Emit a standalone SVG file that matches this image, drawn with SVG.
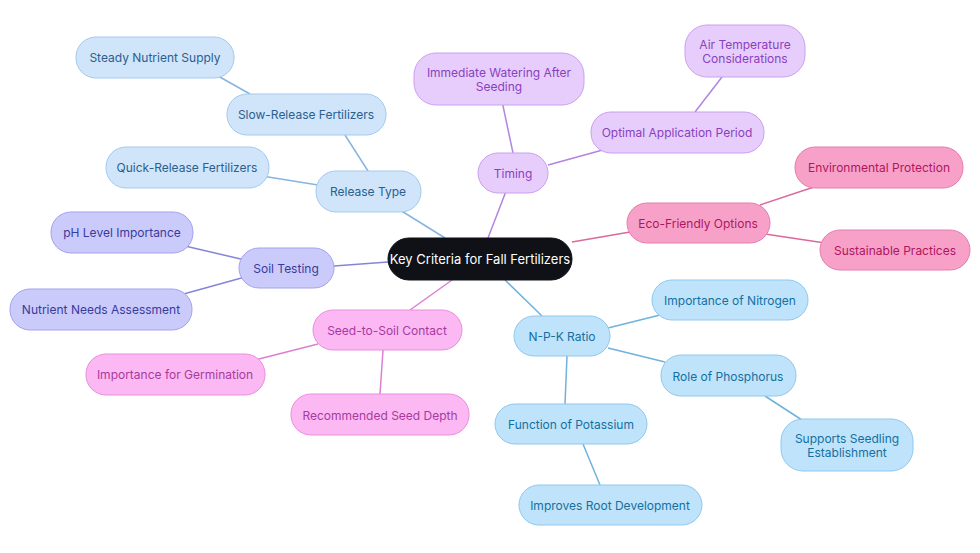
<svg xmlns="http://www.w3.org/2000/svg" width="980" height="553" viewBox="0 0 980 553">
<style>
text{font-family:"Inter","Noto Sans",sans-serif;font-size:12px;text-anchor:middle;dominant-baseline:central}
rect{stroke-width:1}
.c rect{fill:#0f1117;stroke:#0f1117}.c text{fill:#fff;font-size:13px}
.pu rect{fill:#e7cdfb;stroke:#c9a0ee}.pu text{fill:#8a3fc0}
.pk rect{fill:#f7a1c9;stroke:#e27fb0}.pk text{fill:#b01560}
.bl rect{fill:#bfe3fb;stroke:#8fc8ee}.bl text{fill:#1470a0}
.mg rect{fill:#fbb8f2;stroke:#e98fdf}.mg text{fill:#a83aa0}
.lv rect{fill:#cbcbfb;stroke:#a3a3ec}.lv text{fill:#3a3a9a}
.lb rect{fill:#d0e5f9;stroke:#a5c9ec}.lb text{fill:#2a6090}
#edges line{stroke-width:1.5}
</style>
<g id="edges">
<line x1="488" y1="238" x2="513" y2="173" stroke="#b185e0"/>
<line x1="499" y1="87" x2="513" y2="153" stroke="#b185e0"/>
<line x1="548" y1="165" x2="610" y2="148" stroke="#b185e0"/>
<line x1="695" y1="112" x2="722" y2="77" stroke="#b185e0"/>
<line x1="572" y1="242" x2="630" y2="232" stroke="#d96a9c"/>
<line x1="760" y1="205" x2="820" y2="185" stroke="#d96a9c"/>
<line x1="765" y1="234" x2="825" y2="243" stroke="#d96a9c"/>
<line x1="505" y1="280" x2="542" y2="316" stroke="#6fb2dd"/>
<line x1="608" y1="328" x2="660" y2="315" stroke="#6fb2dd"/>
<line x1="608" y1="348" x2="665" y2="362" stroke="#6fb2dd"/>
<line x1="765" y1="396" x2="805" y2="422" stroke="#6fb2dd"/>
<line x1="567" y1="356" x2="565" y2="404" stroke="#6fb2dd"/>
<line x1="583" y1="444" x2="600" y2="485" stroke="#6fb2dd"/>
<line x1="452" y1="280" x2="410" y2="310" stroke="#dc7fd3"/>
<line x1="318" y1="344" x2="255" y2="360" stroke="#dc7fd3"/>
<line x1="383" y1="350" x2="380" y2="394" stroke="#dc7fd3"/>
<line x1="388" y1="262" x2="334" y2="266" stroke="#8585d8"/>
<line x1="245" y1="260" x2="185" y2="246" stroke="#8585d8"/>
<line x1="245" y1="277" x2="180" y2="295" stroke="#8585d8"/>
<line x1="445" y1="238" x2="400" y2="210" stroke="#85b5e0"/>
<line x1="318" y1="185" x2="262" y2="176" stroke="#85b5e0"/>
<line x1="368" y1="171" x2="345" y2="135" stroke="#85b5e0"/>
<line x1="250" y1="94" x2="218" y2="76" stroke="#85b5e0"/>
</g>
<g id="center" class="c"><rect x="388" y="238" width="184" height="42" rx="21"/><text x="480" y="259">Key Criteria for Fall Fertilizers</text></g>
<g id="timing" class="pu"><rect x="478" y="153" width="70" height="40" rx="20"/><text x="513" y="173">Timing</text></g>
<g id="watering" class="pu"><rect x="414" y="53" width="170" height="52" rx="22"/><text x="499" y="72">Immediate Watering After</text><text x="499" y="86">Seeding</text></g>
<g id="period" class="pu"><rect x="591" y="112" width="173" height="41" rx="20"/><text x="677" y="132">Optimal Application Period</text></g>
<g id="airtemp" class="pu"><rect x="685" y="25" width="120" height="52" rx="22"/><text x="745" y="44">Air Temperature</text><text x="745" y="58">Considerations</text></g>
<g id="eco" class="pk"><rect x="627" y="203" width="143" height="40" rx="20"/><text x="698" y="223">Eco-Friendly Options</text></g>
<g id="env" class="pk"><rect x="795" y="147" width="168" height="41" rx="20"/><text x="879" y="167">Environmental Protection</text></g>
<g id="sust" class="pk"><rect x="820" y="230" width="150" height="40" rx="20"/><text x="895" y="250">Sustainable Practices</text></g>
<g id="npk" class="bl"><rect x="514" y="316" width="96" height="40" rx="20"/><text x="562" y="336">N-P-K Ratio</text></g>
<g id="nitrogen" class="bl"><rect x="652" y="280" width="156" height="40" rx="20"/><text x="730" y="300">Importance of Nitrogen</text></g>
<g id="phosphorus" class="bl"><rect x="661" y="355" width="135" height="41" rx="20"/><text x="728" y="376">Role of Phosphorus</text></g>
<g id="seedling" class="bl"><rect x="781" y="419" width="132" height="52" rx="22"/><text x="847" y="438">Supports Seedling</text><text x="847" y="452">Establishment</text></g>
<g id="potassium" class="bl"><rect x="495" y="404" width="152" height="40" rx="20"/><text x="571" y="424">Function of Potassium</text></g>
<g id="root" class="bl"><rect x="519" y="485" width="183" height="40" rx="20"/><text x="610" y="505">Improves Root Development</text></g>
<g id="s2s" class="mg"><rect x="313" y="310" width="149" height="40" rx="20"/><text x="387" y="330">Seed-to-Soil Contact</text></g>
<g id="germ" class="mg"><rect x="86" y="354" width="179" height="41" rx="20"/><text x="175" y="374">Importance for Germination</text></g>
<g id="depth" class="mg"><rect x="291" y="394" width="178" height="41" rx="20"/><text x="380" y="415">Recommended Seed Depth</text></g>
<g id="soil" class="lv"><rect x="239" y="248" width="95" height="40" rx="20"/><text x="286" y="268">Soil Testing</text></g>
<g id="ph" class="lv"><rect x="51" y="212" width="142" height="41" rx="20"/><text x="122" y="232">pH Level Importance</text></g>
<g id="needs" class="lv"><rect x="10" y="289" width="182" height="41" rx="20"/><text x="101" y="309">Nutrient Needs Assessment</text></g>
<g id="release" class="lb"><rect x="316" y="171" width="105" height="41" rx="20"/><text x="368" y="191">Release Type</text></g>
<g id="quick" class="lb"><rect x="106" y="147" width="163" height="41" rx="20"/><text x="187" y="167">Quick-Release Fertilizers</text></g>
<g id="slow" class="lb"><rect x="227" y="94" width="159" height="41" rx="20"/><text x="306" y="114">Slow-Release Fertilizers</text></g>
<g id="steady" class="lb"><rect x="76" y="37" width="158" height="41" rx="20"/><text x="155" y="57">Steady Nutrient Supply</text></g>
</svg>
